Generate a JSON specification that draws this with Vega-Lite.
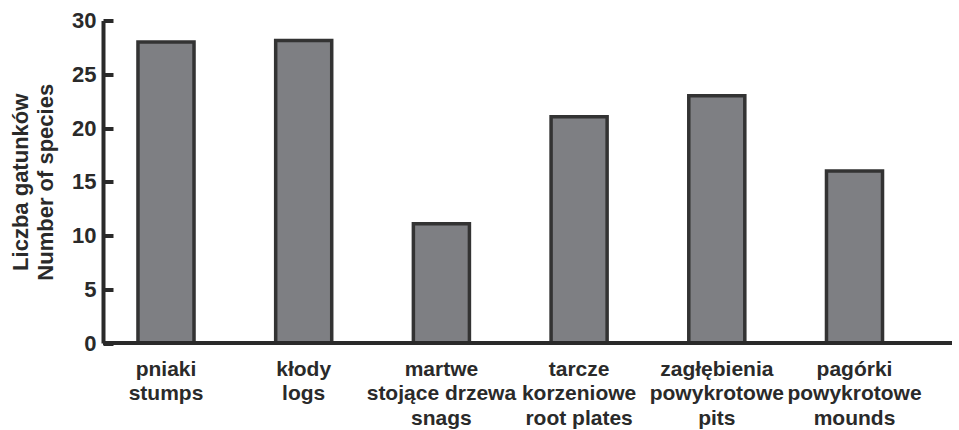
{
  "$schema": "https://vega.github.io/schema/vega-lite/v6.json",
  "autosize": "none",
  "width": 849,
  "height": 322.5,
  "padding": {"left": 103, "top": 20.5, "right": 7, "bottom": 87},
  "background": "white",
  "config": {"view": {"stroke": null}, "font": "Liberation Sans"},
  "data": {
    "values": [
      {"label": "pniaki|stumps", "species": 28},
      {"label": "kłody|logs", "species": 28.15},
      {"label": "martwe|stojące drzewa|snags", "species": 11.1},
      {"label": "tarcze|korzeniowe|root plates", "species": 21.05},
      {"label": "zagłębienia|powykrotowe|pits", "species": 23},
      {"label": "pagórki|powykrotowe|mounds", "species": 16}
    ]
  },
  "layer": [
    {
      "mark": {"type": "bar", "fill": "#7e7f83", "stroke": "#333333", "strokeWidth": 3.5},
      "encoding": {
        "x": {
          "field": "label",
          "type": "nominal",
          "sort": null,
          "scale": {"range": [0, 814.5], "paddingInner": 0.593, "paddingOuter": 0.254},
          "axis": {
            "title": null,
            "domain": false,
            "ticks": false,
            "labelAngle": 0,
            "labelExpr": "split(datum.label, '|')",
            "labelFont": "Liberation Sans",
            "labelFontWeight": "bold",
            "labelFontSize": 21,
            "labelLineHeight": 24.5,
            "labelColor": "#2a2a2a",
            "labelPadding": 15,
            "labelBaseline": "top",
            "labelOverlap": false,
            "labelLimit": 300
          }
        },
        "y": {
          "field": "species",
          "type": "quantitative",
          "scale": {"domain": [0, 30], "nice": false},
          "axis": {
            "values": [0, 5, 10, 15, 20, 25, 30],
            "grid": false,
            "domainColor": "#2a2a2a",
            "domainWidth": 4,
            "tickColor": "#2a2a2a",
            "tickWidth": 4,
            "tickSize": -10,
            "labelFont": "Liberation Sans",
            "labelFontWeight": "bold",
            "labelFontSize": 22,
            "labelColor": "#2a2a2a",
            "labelPadding": 17,
            "title": ["Liczba gatunków", "Number of species"],
            "titleFont": "Liberation Sans",
            "titleFontWeight": "bold",
            "titleFontSize": 22,
            "titleColor": "#2a2a2a",
            "titleLineHeight": 25,
            "titlePadding": 14
          }
        }
      }
    },
    {
      "mark": {"type": "rule", "stroke": "#2a2a2a", "strokeWidth": 4},
      "encoding": {"y": {"datum": 0}}
    }
  ]
}
